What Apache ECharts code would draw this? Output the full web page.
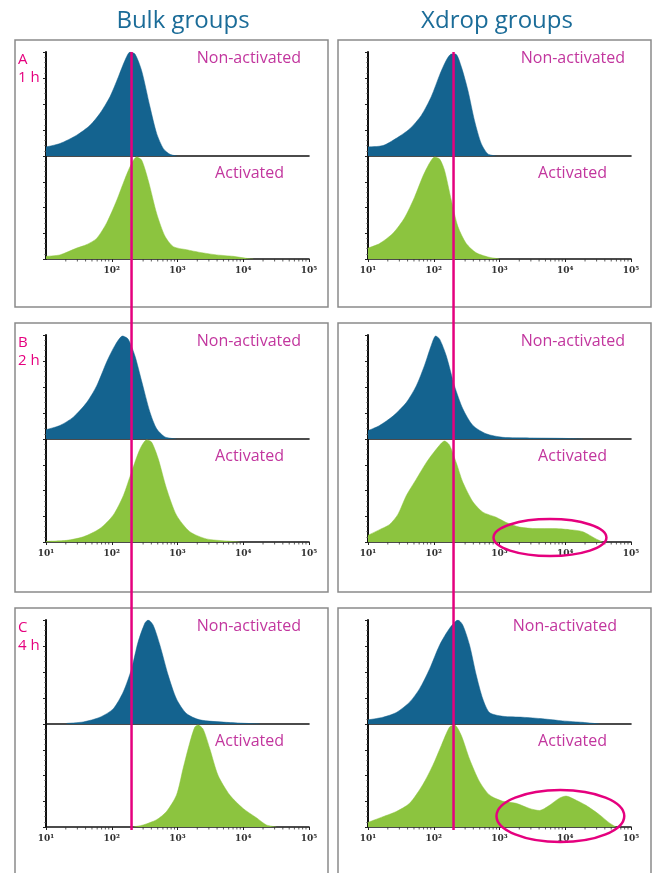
<!DOCTYPE html>
<html><head><meta charset="utf-8">
<script src="https://cdn.jsdelivr.net/npm/echarts@6/dist/echarts.min.js"></script>
<style>html,body{margin:0;padding:0;background:#fff}#c{width:655px;height:873px}</style>
</head><body><div id="c"></div>
<script>
// ---------- data ----------
const groups = ['Bulk groups', 'Xdrop groups'];
const panelLetters = ['A', 'B', 'C'];
const timepoints = ['1 h', '2 h', '4 h'];
const stateLabels = ['Non-activated', 'Activated'];
const tickLabels = ['10¹', '10²', '10³', '10⁴', '10⁵'];
const minorTickValues = [20,30,40,50,60,70,80,90,200,300,400,500,600,700,800,900,2000,3000,4000,5000,6000,7000,8000,9000,20000,30000,40000,50000,60000,70000,80000,90000];
const gateValue = 200;

// [fluorescence, relative count (%)]
const bulk1hNon = [[10,8.7],[16.3,12],[29.3,20],[46.7,29.5],[66.2,41],[94,57],[126,76],[159,92],[190,100],[226,98],[285,82],[382,47],[483,21.5],[610,7],[769,1.6],[972,0]];
const bulk1hAct = [[10,2.6],[16.3,4],[29.3,10.6],[41.6,14],[59,20],[83.7,35],[119,57],[159,78],[201,93],[239,99],[285,96],[360,76],[483,44],[646,22],[863,12],[1377,9],[2198,6.4],[3945,4],[7070,2.6],[11270,0.6],[14230,0]];
const xdrop1hNon = [[10,8.7],[16.9,10],[26.9,17],[42.9,26],[64.6,39],[91.6,57],[123,78],[155,92],[185,98],[215,98],[262,86],[331,63],[417,34],[527,12],[665,2],[890,0]];
const xdrop1hAct = [[10,10.6],[15,15],[24,25],[36,40],[51,60],[68,80],[86,93],[103,99],[123,97],[146,86],[185,57],[233,31.5],[312,15],[443,6],[665,2],[1000,0]];

const bulk2hNon = [[10,9],[16.3,13],[26,21],[41.5,35],[58.9,51],[83.6,74],[112,90],[146,99],[178,96],[225,80],[284,56],[380,26],[480,10],[643,2],[966,0]];
const bulk2hAct = [[10,0.6],[20.6,1.6],[36.9,5],[66,13],[105,26],[150,45],[200,68],[268,90],[338,99],[403,97],[508,81],[680,52],[966,26],[1540,10],[2760,3],[5550,1],[8850,0]];
const xdrop2hNon = [[10,8],[15,13],[24,22],[38.2,35],[54.2,51],[72.6,71],[91.6,90],[107,99],[123,96],[155,80],[207,51],[277,29],[394,13],[627,5],[1125,1.6],[2860,1],[9160,0.6],[18450,0]];
const xdrop2hAct = [[10,6.5],[15,12],[21.3,17],[28.6,27],[38.2,45],[54.2,61],[76.9,77],[109,90],[146,98],[174,94],[220,77],[277,58],[394,39],[558,29],[890,24],[1262,19],[2014,14.5],[3607,13],[6457,13],[11560,12],[18450,10],[29400,3],[37150,0]];

const bulk4hNon = [[20.6,0.6],[36.9,2],[66,6.5],[105,14.5],[150,31],[200,53],[252,79],[319,97],[358,100],[427,95],[539,76],[721,47],[966,24],[1371,10],[2183,4],[5550,1.6],[17820,0]];
const bulk4hAct = [[212,0],[301,2],[480,7],[680,15],[966,31],[1219,57],[1540,82],[1834,97],[2060,99],[2454,95],[3098,76],[4150,50],[6240,31],[9940,18],[15850,9],[22490,2],[31900,0]];
const xdrop4hNon = [[10,4],[16.9,6.5],[26.9,11],[42.9,21],[61,34],[86.5,53],[123,76],[174,92],[233,100],[277,95],[350,76],[443,47],[558,24],[705,11],[1125,7.4],[2260,6.5],[4550,5],[9160,3],[18450,1.6],[33000,0]];
const xdrop4hAct = [[10,4.5],[16.9,10],[26.9,15],[42.9,23],[68,41],[97,60],[130,79],[174,97],[207,99],[262,89],[350,66],[497,44],[705,31],[1125,25],[1791,23],[2860,18],[4056,16],[5740,21],[8150,28],[10300,30],[14620,26],[20700,21],[33000,12],[46900,4],[59200,0]];

// highlighted sub-populations (x range, y range in % units)
const xdrop2hHighlight = {x: [811, 42300], y: [-13.6, 22.3]};
const xdrop4hHighlight = {x: [900, 79000], y: [-14.6, 36]};

const panels = [
  [[bulk1hNon, bulk1hAct], [xdrop1hNon, xdrop1hAct]],
  [[bulk2hNon, bulk2hAct], [xdrop2hNon, xdrop2hAct]],
  [[bulk4hNon, bulk4hAct], [xdrop4hNon, xdrop4hAct]]
];

// ---------- layout / style ----------
const COL_X = [46, 368], PW = 263;
const ROW_Y = [52, 335, 620], HT = 104, HB = 103;
const FRAME_X = [15, 338], FRAME_W = 313;
const FRAME_Y = [40, 323, 608], FRAME_H = [267, 269, 270];
const BLUE = '#14638f', GREEN = '#8cc43f';
const PINK = '#e5007e', LABEL_PINK = '#c2369e', TITLE = '#1b6c98';
const FONT = '"Open Sans", "Noto Sans", sans-serif';

const grid = [], xAxis = [], yAxis = [], series = [];
for (let r = 0; r < 3; r++) {
  for (let c = 0; c < 2; c++) {
    for (let h = 0; h < 2; h++) {
      const gi = grid.length;
      grid.push({left: COL_X[c], top: h === 0 ? ROW_Y[r] : ROW_Y[r] + HT, width: PW, height: h === 0 ? HT : HB});
      const bottom = h === 1;
      xAxis.push({
        type: 'log', logBase: 10, min: 10, max: 100000, gridIndex: gi,
        axisLine: {show: true, lineStyle: {color: '#111', width: 1.6}},
        axisTick: {show: bottom, length: 3, lineStyle: {color: '#222', width: 1}},
        splitLine: {show: false},
        axisLabel: {
          show: bottom, margin: 7, fontSize: 9, color: '#333', fontWeight: 'bold',
          fontFamily: '"DejaVu Serif", serif',
          showMinLabel: !(r === 0 && c === 0),
          formatter: v => tickLabels[Math.round(Math.log10(v)) - 1] || ''
        }
      });
      yAxis.push({
        type: 'value', min: 0, max: 100, interval: 25, gridIndex: gi,
        axisLine: {show: true, lineStyle: {color: '#111', width: 2}},
        axisTick: {show: true, length: 3, lineStyle: {color: '#222'}},
        minorTick: {show: true, splitNumber: 5, length: 1.5, lineStyle: {color: '#444'}},
        splitLine: {show: false},
        axisLabel: {show: false}
      });
      series.push({
        type: 'line', xAxisIndex: gi, yAxisIndex: gi,
        data: panels[r][c][h], symbol: 'none', smooth: 0.25,
        lineStyle: {width: 0.5, color: h === 0 ? BLUE : GREEN},
        areaStyle: {color: h === 0 ? BLUE : GREEN, opacity: 1},
        silent: true, animation: false, z: 2
      });
    }
  }
}

const chart = echarts.init(document.getElementById('c'), null, {renderer: 'canvas'});
chart.setOption({animation: false, backgroundColor: '#fff', grid, xAxis, yAxis, series});

// ---------- annotations ----------
const g = [];
for (let c = 0; c < 2; c++) {
  g.push({type: 'text', x: [183, 497][c], y: 21, z: 50,
    style: {text: groups[c], fill: TITLE, font: '24px ' + FONT, align: 'center', verticalAlign: 'middle'}});
}
for (let r = 0; r < 3; r++) {
  for (let c = 0; c < 2; c++) {
    g.push({type: 'rect', z: 1, silent: true,
      shape: {x: FRAME_X[c], y: FRAME_Y[r], width: FRAME_W, height: FRAME_H[r]},
      style: {fill: 'none', stroke: '#8a8a8a', lineWidth: 1.5}});
    const nonRight = [301, 625][c] - (r === 2 && c === 1 ? 8 : 0);
    g.push({type: 'text', x: nonRight, y: ROW_Y[r] + 6, z: 50,
      style: {text: stateLabels[0], fill: LABEL_PINK, font: '16px ' + FONT, align: 'right', verticalAlign: 'middle'}});
    g.push({type: 'text', x: [284, 607][c], y: ROW_Y[r] + 121, z: 50,
      style: {text: stateLabels[1], fill: LABEL_PINK, font: '16px ' + FONT, align: 'right', verticalAlign: 'middle'}});
    // minor log ticks on the lower x axis
    const gi = (r * 2 + c) * 2 + 1;
    minorTickValues.forEach(v => {
      const p = chart.convertToPixel({gridIndex: gi}, [v, 0]);
      g.push({type: 'line', z: 40, silent: true,
        shape: {x1: p[0], y1: p[1], x2: p[0], y2: p[1] + 2.5},
        style: {stroke: '#333', lineWidth: 0.8}});
    });
  }
  g.push({type: 'text', x: 18, y: ROW_Y[r] + 8, z: 50,
    style: {text: panelLetters[r], fill: PINK, font: '15px ' + FONT, verticalAlign: 'middle'}});
  g.push({type: 'text', x: 18, y: ROW_Y[r] + 26, z: 50,
    style: {text: timepoints[r], fill: PINK, font: '15px ' + FONT, verticalAlign: 'middle'}});
}
// gate lines
for (let c = 0; c < 2; c++) {
  const topGrid = c * 2;
  const botGrid = (2 * 2 + c) * 2 + 1;
  const p1 = chart.convertToPixel({gridIndex: topGrid}, [gateValue, 100]);
  const p2 = chart.convertToPixel({gridIndex: botGrid}, [gateValue, 0]);
  g.push({type: 'line', z: 60, silent: true,
    shape: {x1: p1[0], y1: p1[1], x2: p2[0], y2: p2[1] + 3},
    style: {stroke: PINK, lineWidth: 2.5}});
}
// highlight ellipses
[[7, xdrop2hHighlight], [11, xdrop4hHighlight]].forEach(([gi, hl]) => {
  const a = chart.convertToPixel({gridIndex: gi}, [hl.x[0], hl.y[1]]);
  const b = chart.convertToPixel({gridIndex: gi}, [hl.x[1], hl.y[0]]);
  g.push({type: 'ellipse', z: 60, silent: true,
    shape: {cx: (a[0] + b[0]) / 2, cy: (a[1] + b[1]) / 2, rx: Math.abs(b[0] - a[0]) / 2, ry: Math.abs(b[1] - a[1]) / 2},
    style: {fill: 'none', stroke: PINK, lineWidth: 2.5}});
});
chart.setOption({graphic: {elements: g}});
</script></body></html>
